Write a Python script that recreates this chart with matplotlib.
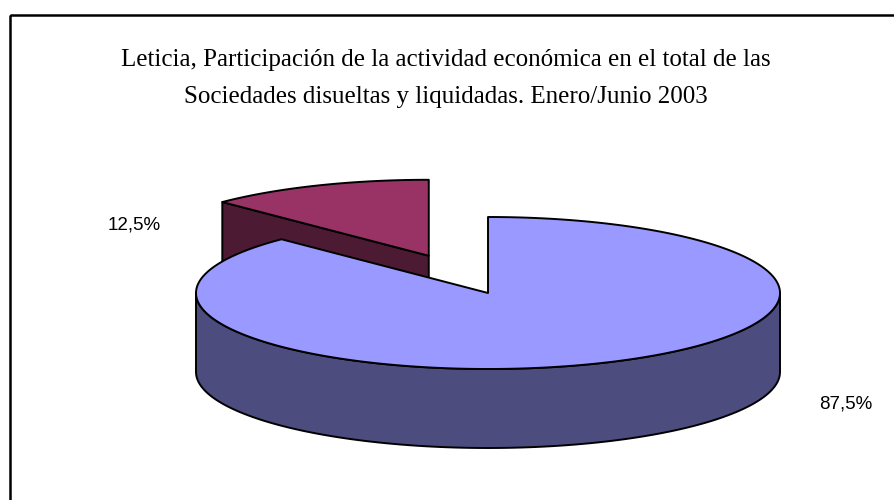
import numpy as np
import matplotlib.pyplot as plt
from matplotlib.patches import Polygon, Rectangle

# chart data
title_lines = ['Leticia, Participación de la actividad económica en el total de las',
               'Sociedades disueltas y liquidadas. Enero/Junio 2003']
values = [87.5, 12.5]
labels = ['87,5%', '12,5%']
top_colors = ['#9999ff', '#993366']
side_colors = ['#4c4c7f', '#4c1a33']
explode = [0.0, 0.53]
label_pos = [(846, 404), (134, 225)]

# pie geometry in pixels (screen y grows downward)
cx, cy = 488, 293
a, b = 292, 76
depth = 79
lw = 1.4

fig = plt.figure(figsize=(8.95, 5), dpi=100)
ax = fig.add_axes([0, 0, 1, 1])
ax.set_xlim(0, 895)
ax.set_ylim(500, 0)
ax.axis('off')

# chart frame (right and bottom edges run off the picture)
ax.add_patch(Rectangle((10, 15), 900, 500, fill=False, edgecolor='black', lw=1.8))

for i, line in enumerate(title_lines):
    ax.text(446, 60 + 37 * i, line, ha='center', va='center',
            family='Liberation Serif', fontsize=18)


def pt(t, ox, oy, dz=0.0):
    r = np.radians(t)
    return np.column_stack([cx + ox + a * np.cos(r), cy + oy - b * np.sin(r) + dz])


# Excel style: start at 12 o'clock and go clockwise
total = float(sum(values))
slices = []
start = 90.0
for v, e, ct, cs in zip(values, explode, top_colors, side_colors):
    sweep = 360.0 * v / total
    t0, t1 = start - sweep, start
    mid = np.radians((t0 + t1) / 2)
    ox = e * a * np.cos(mid)
    oy = -e * b * np.sin(mid)
    slices.append((t0, t1, ox, oy, ct, cs))
    start = t0

# paint the ones further back first
for t0, t1, ox, oy, ct, cs in sorted(slices, key=lambda s: s[3]):
    c = np.array([[cx + ox, cy + oy]])
    # flat radial faces that point to the viewer
    for t, nrm in ((t1, t1 + 90), (t0, t0 - 90)):
        if np.sin(np.radians(nrm)) < -1e-6:
            e_top = pt(np.array([t]), ox, oy)
            poly = np.vstack([c, e_top, e_top + [0, depth], c + [0, depth]])
            ax.add_patch(Polygon(poly, closed=True, facecolor=cs,
                                 edgecolor='black', lw=lw, joinstyle='round'))
    # curved outer wall, only the front half shows
    for k in range(-2, 2):
        lo = max(t0, 180 + 360 * k)
        hi = min(t1, 360 + 360 * k)
        if hi > lo:
            tt = np.linspace(lo, hi, 120)
            upper = pt(tt, ox, oy)
            lower = pt(tt[::-1], ox, oy, depth)
            ax.add_patch(Polygon(np.vstack([upper, lower]), closed=True,
                                 facecolor=cs, edgecolor='black', lw=lw,
                                 joinstyle='round'))
    # top face
    tt = np.linspace(t0, t1, 300)
    poly = np.vstack([c, pt(tt, ox, oy)])
    ax.add_patch(Polygon(poly, closed=True, facecolor=ct, edgecolor='black',
                         lw=lw, joinstyle='round'))

for lab, (x, y) in zip(labels, label_pos):
    ax.text(x, y, lab, ha='center', va='center', family='Liberation Sans',
            fontsize=13.5)

fig.savefig('out.png', dpi=100)
